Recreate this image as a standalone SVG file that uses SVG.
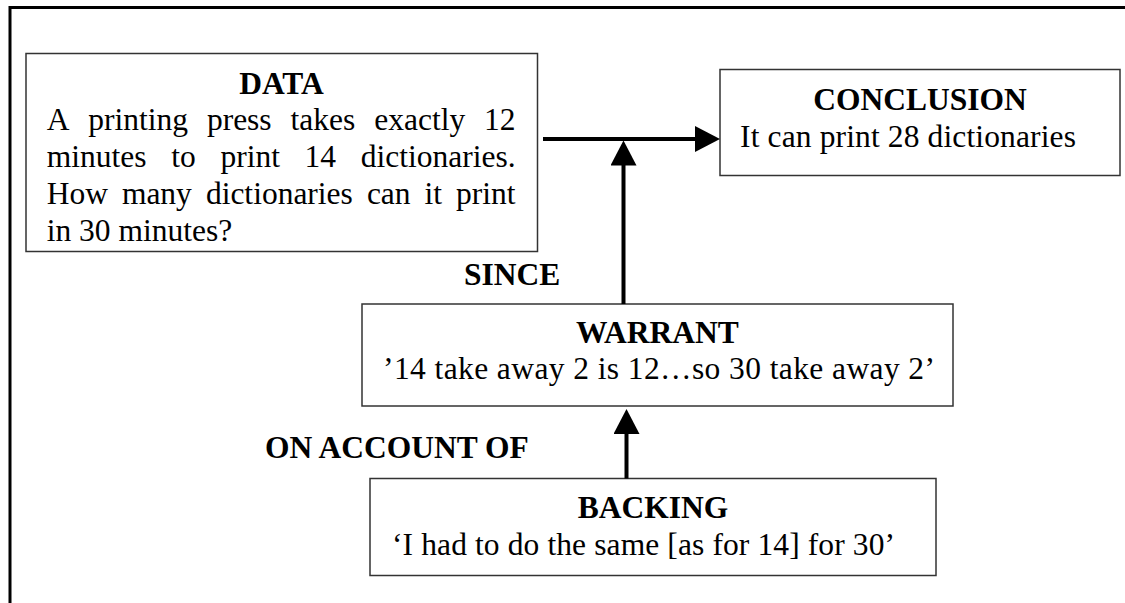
<svg xmlns="http://www.w3.org/2000/svg" width="1125" height="603" viewBox="0 0 1125 603">
<style>
.box{fill:#fff;stroke:#333;stroke-width:1.5}
.t{font-family:"Liberation Serif","Times New Roman",serif;font-size:31.5px;fill:#000}
.b{font-weight:bold}
.m{text-anchor:middle}
.conn{stroke:#000;stroke-width:4;fill:none}
</style>
<defs>
<marker id="arrow" viewBox="0 0 25 26" refX="10" refY="13" markerWidth="25" markerHeight="26" orient="auto" markerUnits="userSpaceOnUse">
<path d="M0,0 L25,13 L0,26 z" fill="#000"/>
</marker>
</defs>
<rect width="1125" height="603" fill="#fff"/>
<path d="M10,603 V7.5 H1125" fill="none" stroke="#000" stroke-width="3"/>
<g id="data">
<rect class="box" x="26" y="53.5" width="511.5" height="198"/>
<text class="t b m" x="281.5" y="94">DATA</text>
<text class="t" y="130"><tspan x="46.7">A</tspan><tspan x="88.3">printing</tspan><tspan x="206.9">press</tspan><tspan x="290.6">takes</tspan><tspan x="374.2">exactly</tspan><tspan x="484.1">12</tspan></text>
<text class="t" y="167"><tspan x="46.7">minutes</tspan><tspan x="171.2">to</tspan><tspan x="220.4">print</tspan><tspan x="304.6">14</tspan><tspan x="360.8">dictionaries.</tspan></text>
<text class="t" y="203.5"><tspan x="46.7">How</tspan><tspan x="121.9">many</tspan><tspan x="205.9">dictionaries</tspan><tspan x="366.9">can</tspan><tspan x="424.6">it</tspan><tspan x="456.1">print</tspan></text>
<text class="t" x="46.7" y="240.5">in 30 minutes?</text>
</g>
<g id="conclusion">
<rect class="box" x="720" y="69.5" width="400" height="106"/>
<text class="t b m" x="920" y="110">CONCLUSION</text>
<text class="t" x="740" y="146.5" textLength="336" lengthAdjust="spacing">It can print 28 dictionaries</text>
</g>
<g id="warrant">
<rect class="box" x="362" y="304" width="591" height="102"/>
<text class="t b m" x="657.5" y="343">WARRANT</text>
<text class="t" x="383" y="379" textLength="552" lengthAdjust="spacing">’14 take away 2 is 12…so 30 take away 2’</text>
</g>
<g id="backing">
<rect class="box" x="370" y="478.5" width="566" height="97"/>
<text class="t b m" x="653" y="518">BACKING</text>
<text class="t" x="392" y="555" textLength="503" lengthAdjust="spacing">‘I had to do the same [as for 14] for 30’</text>
</g>
<g id="labels">
<text class="t b" x="464" y="285">SINCE</text>
<text class="t b" x="265" y="458">ON ACCOUNT OF</text>
</g>
<g id="connectors">
<line class="conn" x1="543" y1="139" x2="705" y2="139" marker-end="url(#arrow)"/>
<line class="conn" x1="623.5" y1="304" x2="623.5" y2="155.5" marker-end="url(#arrow)"/>
<line class="conn" x1="626.5" y1="478.5" x2="626.5" y2="424" marker-end="url(#arrow)"/>
</g>
</svg>
